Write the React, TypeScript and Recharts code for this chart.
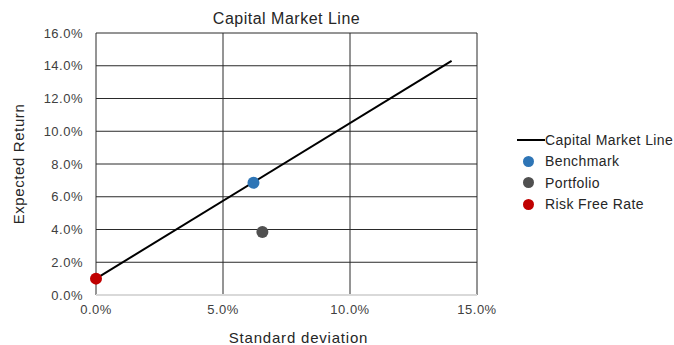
import React from 'react';
import {
  ComposedChart,
  Line,
  Scatter,
  XAxis,
  YAxis,
  CartesianGrid,
  Label,
} from 'recharts';

const xTicks = [0, 5, 10, 15];
const yTicks = [0, 2, 4, 6, 8, 10, 12, 14, 16];

const cmlLine = [
  { x: 0, y: 1.0 },
  { x: 14.0, y: 14.3 },
];
const benchmark = [{ x: 6.2, y: 6.85 }];
const portfolio = [{ x: 6.55, y: 3.85 }];
const riskFree = [{ x: 0, y: 1.0 }];

const legendItems = [
  { name: 'Capital Market Line', color: '#000000', kind: 'line' },
  { name: 'Benchmark', color: '#2e75b6', kind: 'dot' },
  { name: 'Portfolio', color: '#505050', kind: 'dot' },
  { name: 'Risk Free Rate', color: '#c00000', kind: 'dot' },
];

const font = '"Liberation Sans", Arial, sans-serif';
const pct = (v: number) => `${v.toFixed(1)}%`;

const LegendBox = () => (
  <div
    style={{
      position: 'absolute',
      left: 517,
      top: 129,
      fontFamily: font,
      fontSize: 14,
      color: '#262626',
      letterSpacing: 0.4,
    }}
  >
    {legendItems.map((it) => (
      <div key={it.name} style={{ display: 'flex', alignItems: 'center', height: 21.5 }}>
        {it.kind === 'line' ? (
          <span style={{ width: 28, height: 2, background: it.color, display: 'inline-block' }} />
        ) : (
          <span style={{ width: 28, display: 'inline-flex', justifyContent: 'center' }}>
            <span
              style={{
                width: 11,
                height: 11,
                borderRadius: '50%',
                background: it.color,
                display: 'inline-block',
                marginLeft: -6,
              }}
            />
          </span>
        )}
        <span>{it.name}</span>
      </div>
    ))}
  </div>
);

const dotShape = (color: string) => (p: any) => <circle cx={p.cx} cy={p.cy} r={6} fill={color} />;

export default function App() {
  return (
    <div style={{ position: 'absolute', left: 0, top: 0, width: 674, height: 345, background: '#fff' }}>
      <div
        style={{
          position: 'absolute',
          top: 10,
          left: 96,
          width: 381,
          textAlign: 'center',
          fontFamily: font,
          fontSize: 16,
          letterSpacing: 0.5,
          color: '#262626',
        }}
      >
        Capital Market Line
      </div>
      <ComposedChart
        width={674}
        height={345}
        margin={{ top: 33, right: 197, bottom: 0, left: 0 }}
        style={{ fontFamily: font }}
      >
        <CartesianGrid stroke="#2a2a2a" strokeWidth={1} />
        <XAxis
          type="number"
          dataKey="x"
          domain={[0, 15]}
          ticks={xTicks}
          tickFormatter={pct}
          height={50}
          tickLine={false}
          axisLine={{ stroke: '#d9d9d9', strokeWidth: 2 }}
          tick={{ fill: '#404040', fontSize: 13, letterSpacing: 0.5 }}
          tickMargin={4}
        >
          <Label
            value="Standard deviation"
            position="insideBottom"
            offset={2}
            dx={12}
            style={{ fill: '#262626', fontSize: 15, letterSpacing: 0.8 }}
          />
        </XAxis>
        <YAxis
          type="number"
          dataKey="y"
          domain={[0, 16]}
          ticks={yTicks}
          tickFormatter={pct}
          width={96}
          tickLine={false}
          axisLine={false}
          tick={{ fill: '#404040', fontSize: 13, letterSpacing: 0.5 }}
          tickMargin={7}
        >
          <Label
            value="Expected Return"
            angle={-90}
            position="insideLeft"
            offset={19}
            style={{ textAnchor: 'middle', fill: '#262626', fontSize: 15, letterSpacing: 0.6 }}
          />
        </YAxis>
        <Line
          data={cmlLine}
          dataKey="y"
          stroke="#000"
          strokeWidth={2}
          dot={false}
          isAnimationActive={false}
          legendType="none"
        />
        <Scatter data={benchmark} dataKey="y" fill="#2e75b6" isAnimationActive={false} shape={dotShape('#2e75b6')} />
        <Scatter data={portfolio} dataKey="y" fill="#505050" isAnimationActive={false} shape={dotShape('#505050')} />
        <Scatter data={riskFree} dataKey="y" fill="#c00000" isAnimationActive={false} shape={dotShape('#c00000')} />
      </ComposedChart>
      <LegendBox />
    </div>
  );
}
